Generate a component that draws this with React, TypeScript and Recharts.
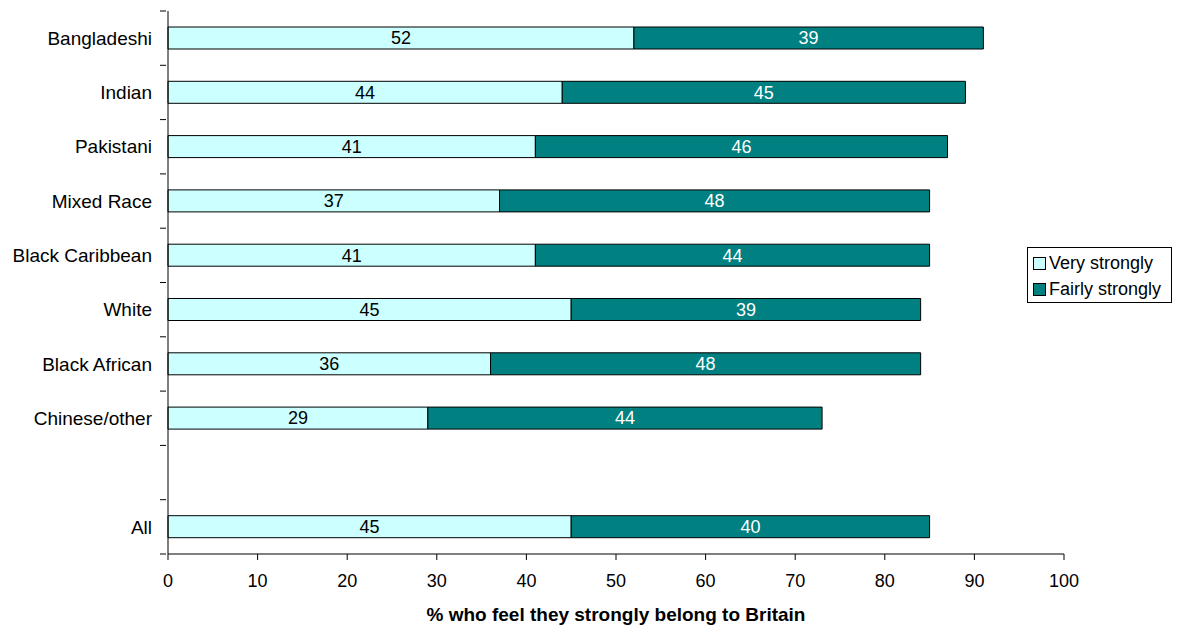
import React from 'react';
import { BarChart, Bar, XAxis, YAxis, LabelList } from 'recharts';

const categories = [
  'Bangladeshi',
  'Indian',
  'Pakistani',
  'Mixed Race',
  'Black Caribbean',
  'White',
  'Black African',
  'Chinese/other',
  '',
  'All',
];
const veryStrongly = [52, 44, 41, 37, 41, 45, 36, 29, null, 45];
const fairlyStrongly = [39, 45, 46, 48, 44, 39, 48, 44, null, 40];
const xTicks = [0, 10, 20, 30, 40, 50, 60, 70, 80, 90, 100];

const LIGHT = '#CCFFFF';
const TEAL = '#008080';
const FONT = 'Arial, "Liberation Sans", sans-serif';
const FS = 18;

const data = categories.map((name, i) => ({
  name,
  very: veryStrongly[i],
  fairly: fairlyStrongly[i],
}));

const W = 1184;
const H = 628;
const TOP = 11;
const BOTTOM = 74;
const BAND = (H - TOP - BOTTOM) / categories.length;

// category labels with Excel-style ticks sitting between the bands
const CategoryTick = (props: any) => {
  const { x, y, payload, index } = props;
  const ax = x + 6;
  return (
    <g>
      <line x1={ax - 6} x2={ax} y1={y - BAND / 2} y2={y - BAND / 2} stroke="#000" />
      {index === categories.length - 1 && (
        <line x1={ax - 6} x2={ax} y1={y + BAND / 2} y2={y + BAND / 2} stroke="#000" />
      )}
      <text x={ax - 14} y={y} dy="0.35em" textAnchor="end" fontSize={19} fontFamily={FONT} fill="#000">
        {payload.value}
      </text>
    </g>
  );
};

const valueLabel = (color: string) => (props: any) => {
  const { x, y, width, height, value } = props;
  if (value == null) return null;
  return (
    <text
      x={x + width / 2}
      y={y + height / 2}
      dy="0.35em"
      textAnchor="middle"
      fontSize={FS}
      fontFamily={FONT}
      fill={color}
    >
      {value}
    </text>
  );
};

const legendItems = [
  { label: 'Very strongly', color: LIGHT },
  { label: 'Fairly strongly', color: TEAL },
];

const LegendBox = () => (
  <div
    style={{
      position: 'absolute',
      left: 1027,
      top: 247,
      width: 145,
      height: 56,
      boxSizing: 'border-box',
      border: '1px solid #000',
      background: '#fff',
      padding: '2px 0 0 5px',
      fontFamily: FONT,
      fontSize: FS,
      lineHeight: '26px',
      color: '#000',
    }}
  >
    {legendItems.map((it) => (
      <div key={it.label} style={{ display: 'flex', alignItems: 'center', whiteSpace: 'nowrap' }}>
        <span
          style={{
            display: 'inline-block',
            width: 11,
            height: 11,
            background: it.color,
            border: '1px solid #000',
            marginRight: 3,
          }}
        />
        {it.label}
      </div>
    ))}
  </div>
);

export default function App() {
  return (
    <div style={{ position: 'absolute', left: 0, top: 0, width: W, height: H, background: '#fff' }}>
      <BarChart
        width={W}
        height={H}
        data={data}
        layout="vertical"
        margin={{ top: TOP, right: 120, bottom: 0, left: 8 }}
        barSize={22}
      >
        <XAxis
          type="number"
          domain={[0, 100]}
          ticks={xTicks}
          interval={0}
          height={BOTTOM}
          tickSize={6}
          tickMargin={14}
          stroke="#000"
          tick={{ fill: '#000', fontSize: FS, fontFamily: FONT }}
          label={{
            value: '% who feel they strongly belong to Britain',
            position: 'insideBottom',
            offset: 7,
            style: { fontWeight: 'bold', fontSize: 19, fontFamily: FONT, fill: '#000' },
          }}
        />
        <YAxis
          type="category"
          dataKey="name"
          width={160}
          tickLine={false}
          stroke="#000"
          interval={0}
          tick={<CategoryTick />}
        />
        <Bar dataKey="very" stackId="a" fill={LIGHT} stroke="#000" strokeWidth={1} isAnimationActive={false}>
          <LabelList dataKey="very" content={valueLabel('#000')} />
        </Bar>
        <Bar dataKey="fairly" stackId="a" fill={TEAL} stroke="#000" strokeWidth={1} isAnimationActive={false}>
          <LabelList dataKey="fairly" content={valueLabel('#fff')} />
        </Bar>
      </BarChart>
      <LegendBox />
    </div>
  );
}
